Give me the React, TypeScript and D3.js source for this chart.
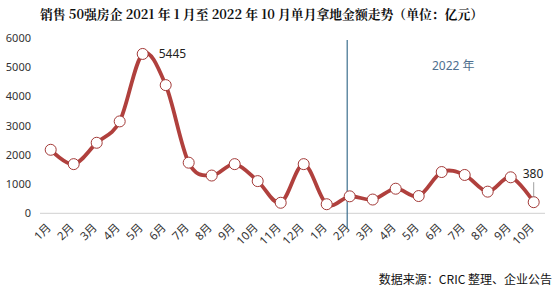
import React from "react";
import * as d3 from "d3";

const months = ["1月","2月","3月","4月","5月","6月","7月","8月","9月","10月","11月","12月","1月","2月","3月","4月","5月","6月","7月","8月","9月","10月"];
const values = [2170,1680,2410,3140,5445,4380,1730,1290,1680,1100,360,1680,310,580,470,840,590,1410,1310,740,1230,380];
const yTicks = [0,1000,2000,3000,4000,5000,6000];
const title = "销售 50强房企 2021 年 1 月至 2022 年 10 月单月拿地金额走势（单位：亿元）";
const source = "数据来源：CRIC 整理、企业公告";
const yearLabel = "2022 年";

export default function App() {
  const W = 557, H = 293;
  const idx = months.map((_, i) => i);
  const x = d3.scalePoint<number>().domain(idx).range([50.7, 533.7]);
  const y = d3.scaleLinear().domain([0, 6000]).range([213.3, 37.7]);
  const line = d3.line<number>().x((_, i) => x(i)!).y(d => y(d)).curve(d3.curveCatmullRom.alpha(0));
  const font = "'Noto Sans', 'Noto Sans CJK SC', sans-serif";
  const peakI = values.indexOf(5445);
  const lastI = values.length - 1;
  const vx = x(13)! - 2.5;
  return (
    <svg width={W} height={H} style={{ position: "absolute", left: 0, top: 0, background: "#fff" }}>
      <text x={40} y={19} textLength={443} lengthAdjust="spacingAndGlyphs" fontSize={13} fontWeight="bold" fontFamily="'Noto Serif CJK SC', 'Noto Sans CJK SC', serif" fill="#111">{title}</text>
      {yTicks.map(t => (
        <text key={t} x={31} y={y(t) + 4} textAnchor="end" fontSize={11} fontFamily={font} fill="#333">{t}</text>
      ))}
      <line x1={40} x2={545} y1={y(0)} y2={y(0)} stroke="#d0d0d0" strokeWidth={1} />
      {months.map((m, i) => (
        <text key={i} transform={`translate(${x(i)! + 1},${y(0) + 15}) rotate(-45)`} textAnchor="end" fontSize={11.5} fontFamily={font} fill="#333">{m}</text>
      ))}
      <line x1={vx} x2={vx} y1={40} y2={229} stroke="#3d6f8e" strokeWidth={1.2} />
      <text x={432} y={70} fontSize={12} fontFamily={font} fill="#4f6f8f">{yearLabel}</text>
      <path d={line(values) || ""} fill="none" stroke="#b0403d" strokeWidth={3.8} strokeLinejoin="round" />
      {values.map((v, i) => (
        <circle key={i} cx={x(i)!} cy={y(v)} r={5.5} fill="#fff" stroke="#a33a38" strokeWidth={1} />
      ))}
      <text x={x(peakI)! + 16} y={y(values[peakI]) + 4} fontSize={12} fontFamily={font} fill="#222">{values[peakI]}</text>
      <line x1={x(lastI)!} x2={x(lastI)!} y1={y(values[lastI]) - 20} y2={y(values[lastI]) - 5} stroke="#888" strokeWidth={0.8} />
      <text x={x(lastI)! - 11} y={y(values[lastI]) - 24} fontSize={12} fontFamily={font} fill="#222">{values[lastI]}</text>
      <text x={552} y={284} textAnchor="end" fontSize={12} fontFamily="'Noto Sans CJK SC', sans-serif" fill="#111">{source}</text>
    </svg>
  );
}
